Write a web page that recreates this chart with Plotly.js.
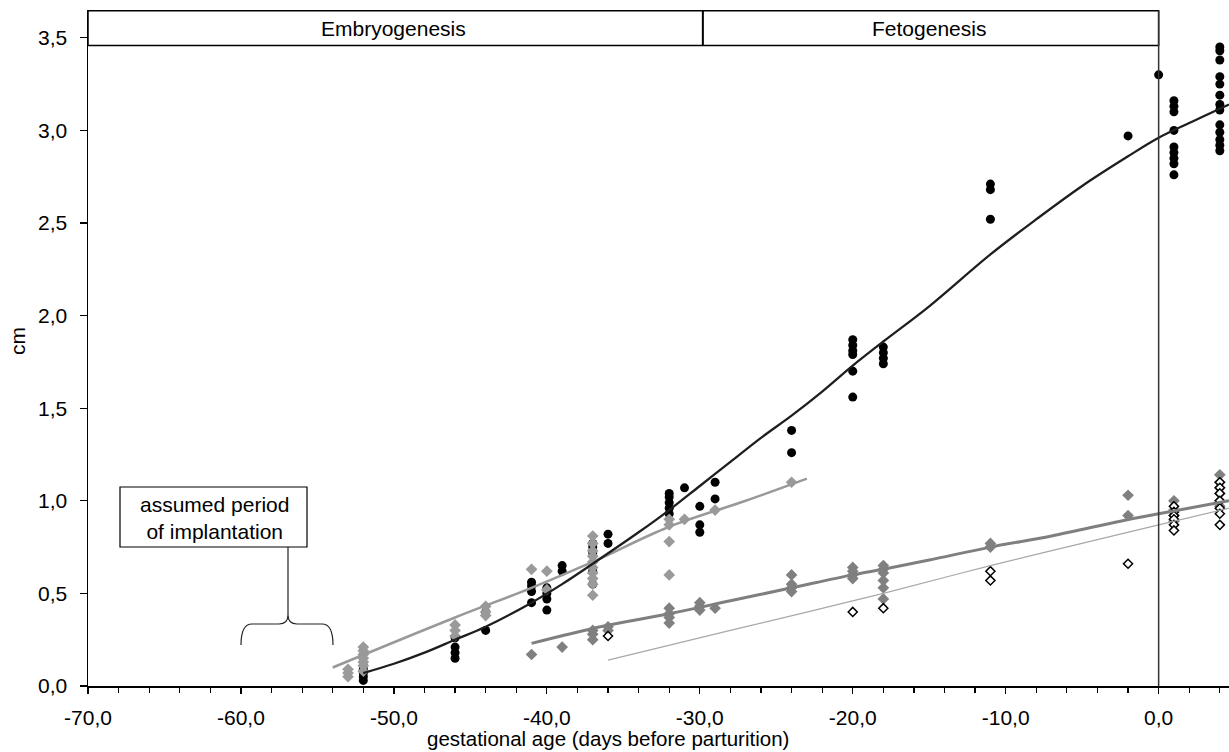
<!DOCTYPE html>
<html>
<head>
<meta charset="utf-8">
<script src="https://cdn.plot.ly/plotly-3.0.1.min.js"></script>
<style>html,body{margin:0;padding:0;background:#fff}#chart{width:1229px;height:752px}</style>
</head>
<body>
<div id="chart"></div>
<script>
// ---- data ----
// black filled circles
const blackX = [-52,-52,-52,-52,-52, -46,-46,-46,-46, -44,-44, -41,-41,-41,-41, -40,-40,-40,-40, -39,-39,
  -37,-37,-37,-37,-37, -36,-36, -32,-32,-32,-32,-32, -31, -30,-30,-30, -29,-29, -24,-24,
  -20,-20,-20,-20,-20,-20, -18,-18,-18,-18, -11,-11,-11, -2, 0,
  1,1,1,1,1,1,1,1,1, 4,4,4,4,4,4,4,4,4,4,4,4,4];
const blackY = [0.03,0.05,0.07,0.09,0.11, 0.15,0.18,0.21,0.26, 0.30,0.40, 0.45,0.51,0.54,0.56, 0.41,0.47,0.50,0.53, 0.62,0.65,
  0.55,0.62,0.72,0.75,0.77, 0.77,0.82, 0.93,0.96,0.99,1.02,1.04, 1.07, 0.97,0.87,0.83, 1.10,1.01, 1.38,1.26,
  1.87,1.84,1.81,1.79,1.70,1.56, 1.83,1.80,1.77,1.74, 2.71,2.68,2.52, 2.97, 3.30,
  3.16,3.13,3.10,3.00,2.91,2.88,2.85,2.82,2.76, 3.45,3.43,3.38,3.29,3.25,3.19,3.14,3.11,3.03,2.99,2.95,2.92,2.89];
// light grey diamonds
const lightX = [-53,-53,-53, -52,-52,-52,-52,-52,-52,-52, -46,-46,-46, -44,-44,-44, -41, -40,-40,
  -37,-37,-37,-37,-37,-37,-37,-37,-37,-37, -32,-32,-32,-32, -31, -29, -24];
const lightY = [0.05,0.07,0.09, 0.08,0.11,0.13,0.15,0.17,0.19,0.21, 0.27,0.30,0.33, 0.38,0.40,0.43, 0.63, 0.62,0.52,
  0.81,0.77,0.73,0.70,0.67,0.64,0.61,0.58,0.55,0.49, 0.90,0.87,0.78,0.60, 0.90, 0.95, 1.10];
// dark grey diamonds
const darkX = [-41, -39, -37,-37,-37, -36,-36, -32,-32,-32,-32, -30,-30,-30, -29, -24,-24,-24,-24,
  -20,-20,-20,-20, -18,-18,-18,-18,-18,-18, -11,-11, -2,-2, 1,1,1,1, 4,4,4,4,4,4];
const darkY = [0.17, 0.21, 0.25,0.28,0.30, 0.32,0.30, 0.42,0.39,0.37,0.34, 0.45,0.43,0.41, 0.42, 0.60,0.55,0.53,0.51,
  0.64,0.62,0.60,0.58, 0.65,0.63,0.61,0.57,0.53,0.47, 0.77,0.75, 1.03,0.92, 1.00,0.95,0.92,0.89, 1.14,1.10,1.07,1.04,1.00,0.97];
// open diamonds
const openX = [-36, -20, -18, -11,-11, -2, 1,1,1,1,1,1, 4,4,4,4,4,4,4];
const openY = [0.27, 0.40, 0.42, 0.62,0.57, 0.66, 0.97,0.94,0.92,0.90,0.87,0.84, 1.10,1.07,1.04,1.00,0.96,0.93,0.87];

// fitted curves
const blackFitX = [-52,-50,-48,-46,-44,-41,-39,-37,-34,-32,-30,-28,-26,-24,-22,-20,-18,-15,-11,-8,-5,-2,0,2,4.6];
const blackFitY = [0.07,0.12,0.18,0.25,0.32,0.45,0.55,0.66,0.83,0.95,1.08,1.21,1.34,1.46,1.59,1.73,1.86,2.05,2.33,2.52,2.70,2.86,2.96,3.04,3.14];
const lightFitX = [-54,-46,-41,-37,-32,-27,-23];
const lightFitY = [0.10,0.37,0.53,0.67,0.86,1.00,1.12];
const darkFitX = [-41,-36.5,-32,-28,-24,-20,-18,-15,-11,-7,-2.5,0,4.6];
const darkFitY = [0.23,0.32,0.39,0.46,0.53,0.60,0.63,0.68,0.75,0.81,0.89,0.93,1.00];
const thinFitX = [-36,-28,-18,-11,-4,0,4.6];
const thinFitY = [0.14,0.30,0.50,0.65,0.79,0.87,0.96];

// axis ticks
const xTickVals = [-70,-60,-50,-40,-30,-20,-10,0];
const xTickText = ['-70,0','-60,0','-50,0','-40,0','-30,0','-20,0','-10,0','0,0'];
const yTickVals = [0,0.5,1,1.5,2,2.5,3,3.5];
const yTickText = ['0,0','0,5','1,0','1,5','2,0','2,5','3,0','3,5'];

// ---- layout geometry ----
const W = 1229, H = 752, ML = 88, MR = 0, MT = 10, MB = 66;
const XMIN = -70, XMAX = 4.6, YMIN = 0, YMAX = 3.65;
const pw = W - ML - MR, ph = H - MT - MB;
const px2x = p => XMIN + (p - ML) / pw * (XMAX - XMIN);
const px2y = p => YMIN + (H - MB - p) / ph * (YMAX - YMIN);
const FONT = 'Liberation Sans, Arial, sans-serif';

function path(segs) { // segs: [cmd, px, py, px, py, ...]
  return segs.map(s => {
    const c = [];
    for (let i = 1; i < s.length; i += 2) c.push(px2x(s[i]).toFixed(4) + ',' + px2y(s[i + 1]).toFixed(4));
    return s[0] + c.join(' ');
  }).join(' ');
}

const traces = [
  {x: blackX, y: blackY, type: 'scatter', mode: 'markers', marker: {symbol: 'circle', size: 9, color: '#000'}},
  {x: lightX, y: lightY, type: 'scatter', mode: 'markers', marker: {symbol: 'diamond', size: 9, color: '#9a9a9a'}},
  {x: darkX, y: darkY, type: 'scatter', mode: 'markers', marker: {symbol: 'diamond', size: 9, color: '#808080'}},
  {x: openX, y: openY, type: 'scatter', mode: 'markers', marker: {symbol: 'diamond', size: 7, color: '#fff', line: {color: '#000', width: 1.5}}},
  {x: lightFitX, y: lightFitY, type: 'scatter', mode: 'lines', line: {color: '#999', width: 2.5, shape: 'spline'}},
  {x: thinFitX, y: thinFitY, type: 'scatter', mode: 'lines', line: {color: '#a8a8a8', width: 1.2, shape: 'spline'}},
  {x: darkFitX, y: darkFitY, type: 'scatter', mode: 'lines', line: {color: '#7f7f7f', width: 3, shape: 'spline'}},
  {x: blackFitX, y: blackFitY, type: 'scatter', mode: 'lines', line: {color: '#1e1e1e', width: 2.3, shape: 'spline'}}
];

const hdrBottom = px2y(45.5);
const hdrTop = px2y(10.8);
const shapes = [
  {type: 'rect', xref: 'x', yref: 'y', x0: -70, x1: 0, y0: hdrBottom, y1: hdrTop, line: {color: '#000', width: 1.5}, fillcolor: 'rgba(0,0,0,0)', layer: 'above'},
  {type: 'line', xref: 'x', yref: 'y', x0: -29.8, x1: -29.8, y0: hdrBottom, y1: hdrTop, line: {color: '#000', width: 2}},
  {type: 'line', xref: 'x', yref: 'y', x0: 0, x1: 0, y0: 0, y1: hdrTop, line: {color: '#333', width: 1.5}},
  // implantation box
  {type: 'rect', xref: 'x', yref: 'y', x0: px2x(120), x1: px2x(307), y0: px2y(547), y1: px2y(487), line: {color: '#000', width: 1.2}, fillcolor: '#fff'},
  {type: 'line', xref: 'x', yref: 'y', x0: px2x(288), x1: px2x(288), y0: px2y(547), y1: px2y(615), line: {color: '#222', width: 1.2}},
  {type: 'path', xref: 'x', yref: 'y', line: {color: '#222', width: 1.2},
   path: path([['M',241,645],['Q',241,624,252,624],['L',279,624],['Q',288,624,288,615],['Q',288,624,297,624],['L',322,624],['Q',333,624,333,645]])}
];

const annotations = [
  {xref: 'x', yref: 'y', x: -50, y: px2y(28), text: 'Embryogenesis', showarrow: false, font: {family: FONT, size: 21, color: '#000'}},
  {xref: 'x', yref: 'y', x: -15, y: px2y(28), text: 'Fetogenesis', showarrow: false, font: {family: FONT, size: 21, color: '#000'}},
  {xref: 'x', yref: 'y', x: px2x(214), y: px2y(518), text: 'assumed period<br>of implantation', showarrow: false, align: 'center', font: {family: FONT, size: 21, color: '#000'}},
  {xref: 'paper', yref: 'paper', x: (608 - ML) / pw, y: (H - MB - 738) / ph, text: 'gestational age (days before parturition)', showarrow: false, xanchor: 'center', yanchor: 'middle', font: {family: FONT, size: 20.5, color: '#000'}},
  {xref: 'paper', yref: 'paper', x: (17 - ML) / pw, y: (H - MB - 341) / ph, text: 'cm', textangle: -90, showarrow: false, xanchor: 'center', yanchor: 'middle', font: {family: FONT, size: 21, color: '#000'}}
];

const layout = {
  width: W, height: H,
  margin: {l: ML, r: MR, t: MT, b: MB, pad: 0},
  paper_bgcolor: '#fff', plot_bgcolor: '#fff',
  showlegend: false,
  font: {family: FONT, size: 21, color: '#000'},
  xaxis: {range: [XMIN, XMAX], showgrid: false, zeroline: false, showline: true, linecolor: '#000', linewidth: 1.5,
          tickmode: 'array', tickvals: xTickVals, ticktext: xTickText, ticks: 'outside', ticklen: 6, tickwidth: 1.2, tickcolor: '#000',
          ticklabelstandoff: 6,
          minor: {tickmode: 'linear', tick0: 0, dtick: 2, ticks: 'outside', ticklen: 5, tickwidth: 1.2, tickcolor: '#000', showgrid: false},
          tickfont: {family: FONT, size: 21, color: '#000'}},
  yaxis: {range: [YMIN, YMAX], showgrid: false, zeroline: false, showline: true, linecolor: '#000', linewidth: 1.5,
          tickmode: 'array', tickvals: yTickVals, ticktext: yTickText, ticks: 'outside', ticklen: 7, tickwidth: 1.2, tickcolor: '#000',
          ticklabelstandoff: 8,
          tickfont: {family: FONT, size: 21, color: '#000'}},
  shapes: shapes,
  annotations: annotations
};

Plotly.newPlot('chart', traces, layout, {displayModeBar: false, staticPlot: true});
</script>
</body>
</html>
